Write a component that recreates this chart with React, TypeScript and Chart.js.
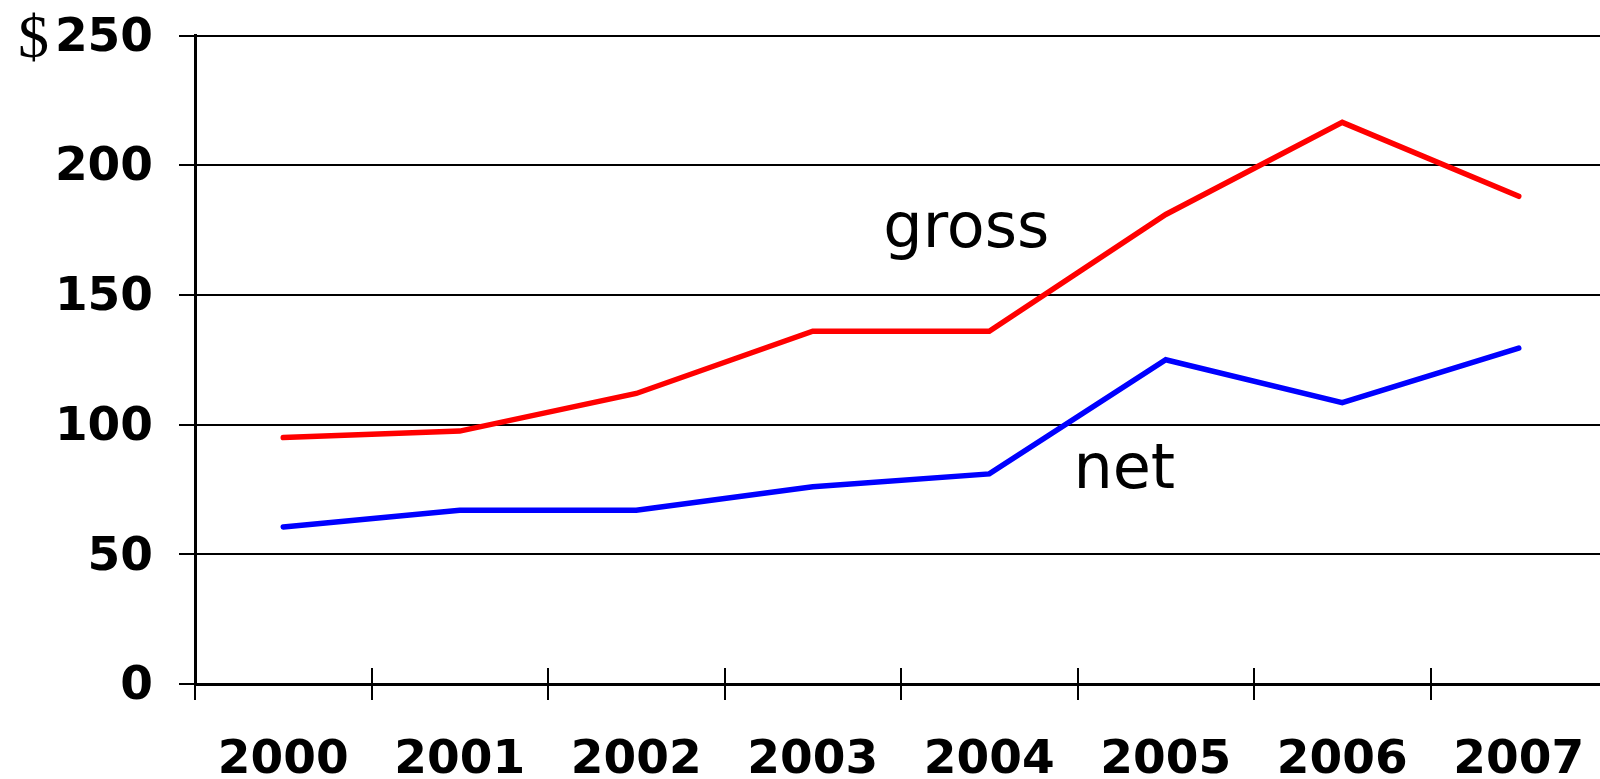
import React, { useEffect, useRef } from "react";
import { Chart, registerables } from "chart.js";

Chart.register(...registerables);

// Years on the category axis
const years = ["2000", "2001", "2002", "2003", "2004", "2005", "2006", "2007"];

// Gross and net amounts, in dollars
const grossValues = [95, 97.5, 112, 136, 136, 181, 216.5, 188];
const netValues = [60.5, 67, 67, 76, 81, 125, 108.5, 129.5];

// Value axis range
const yMin = 0;
const yMax = 250;
const yStep = 50;

// In-plot series names, anchored in data space (category index, value)
const seriesNames = ["gross", "net"];
const seriesNameX = [3.87, 4.765];
const seriesNameY = [168.3, 75.7];
const seriesNameColors = ["#000000", "#000000"];

const currencySign = "$";

const tickFont = { family: "'DejaVu Sans', Verdana, sans-serif", size: 47, weight: "bold" as const };

const axisDecorations = {
  id: "axisDecorations",
  afterDraw(chart: any) {
    const { ctx, scales } = chart;
    const x = scales.x;
    const y = scales.y;
    const n = years.length;
    const mark = 16;

    ctx.save();
    // category boundary marks crossing the horizontal axis
    ctx.strokeStyle = "#000";
    ctx.lineWidth = 2;
    for (let i = 0; i <= n; i++) {
      const px = Math.round(x.left + (i * (x.right - x.left)) / n);
      ctx.beginPath();
      ctx.moveTo(px, y.bottom - mark);
      ctx.lineTo(px, y.bottom + mark);
      ctx.stroke();
    }

    // currency sign ahead of the top value label
    ctx.font = `bold ${tickFont.size}px ${tickFont.family}`;
    const topLabel = String(yMax);
    const labelWidth = ctx.measureText(topLabel).width;
    const labelRight = y.right - mark - y.options.ticks.padding;
    const signRight = labelRight - labelWidth - 6;
    const topPx = y.getPixelForValue(yMax);
    ctx.font = "normal 62px 'Liberation Serif', 'Times New Roman', serif";
    ctx.fillStyle = "#000";
    ctx.textAlign = "right";
    ctx.textBaseline = "alphabetic";
    ctx.fillText(currencySign, signRight, topPx + 21);

    // series names
    ctx.font = "normal 62px 'DejaVu Sans', Verdana, sans-serif";
    ctx.textAlign = "center";
    for (let i = 0; i < seriesNames.length; i++) {
      ctx.fillStyle = seriesNameColors[i];
      ctx.fillText(
        seriesNames[i],
        x.getPixelForValue(seriesNameX[i]),
        y.getPixelForValue(seriesNameY[i])
      );
    }
    ctx.restore();
  },
};

export default function App() {
  const canvasRef = useRef<HTMLCanvasElement | null>(null);

  useEffect(() => {
    const canvas = canvasRef.current;
    if (!canvas) return;
    const chart = new Chart(canvas, {
      type: "line",
      data: {
        labels: years,
        datasets: [
          {
            label: "gross",
            data: grossValues,
            borderColor: "#ff0000",
            backgroundColor: "#ff0000",
            borderWidth: 5.5,
            borderCapStyle: "round",
            pointRadius: 0,
            tension: 0,
          },
          {
            label: "net",
            data: netValues,
            borderColor: "#0000ff",
            backgroundColor: "#0000ff",
            borderWidth: 5.5,
            borderCapStyle: "round",
            pointRadius: 0,
            tension: 0,
          },
        ],
      },
      options: {
        responsive: false,
        animation: false,
        devicePixelRatio: 1,
        layout: { padding: { top: 35.5, right: 13, left: 0, bottom: 0 } },
        plugins: {
          legend: { display: false },
          tooltip: { enabled: false },
        },
        scales: {
          x: {
            type: "category",
            offset: true,
            grid: {
              display: true,
              offset: true,
              drawOnChartArea: false,
              drawTicks: true,
              tickLength: 16,
              color: "rgba(0,0,0,0)",
            },
            border: { display: true, color: "#000", width: 3 },
            ticks: {
              color: "#000",
              font: tickFont,
              padding: 33,
              maxRotation: 0,
              autoSkip: false,
            },
            afterFit(scale: any) {
              scale.height = 95;
              scale.paddingLeft = 0;
              scale.paddingRight = 0;
            },
          },
          y: {
            min: yMin,
            max: yMax,
            grid: {
              color: "#000",
              lineWidth: 2,
              drawTicks: true,
              tickLength: 16,
            },
            border: { display: true, color: "#000", width: 3 },
            ticks: {
              stepSize: yStep,
              color: "#000",
              font: tickFont,
              padding: 26,
              labelOffset: 3,
            },
            afterFit(scale: any) {
              scale.width = 195;
              scale.paddingTop = 0;
              scale.paddingBottom = 0;
            },
          },
        },
      },
      plugins: [axisDecorations],
    });
    return () => chart.destroy();
  }, []);

  return (
    <div
      style={{
        position: "fixed",
        left: 0,
        top: 0,
        width: 1600,
        height: 779,
        overflow: "hidden",
        background: "#fff",
      }}
    >
      <canvas ref={canvasRef} width={1620} height={779} style={{ display: "block" }} />
    </div>
  );
}
